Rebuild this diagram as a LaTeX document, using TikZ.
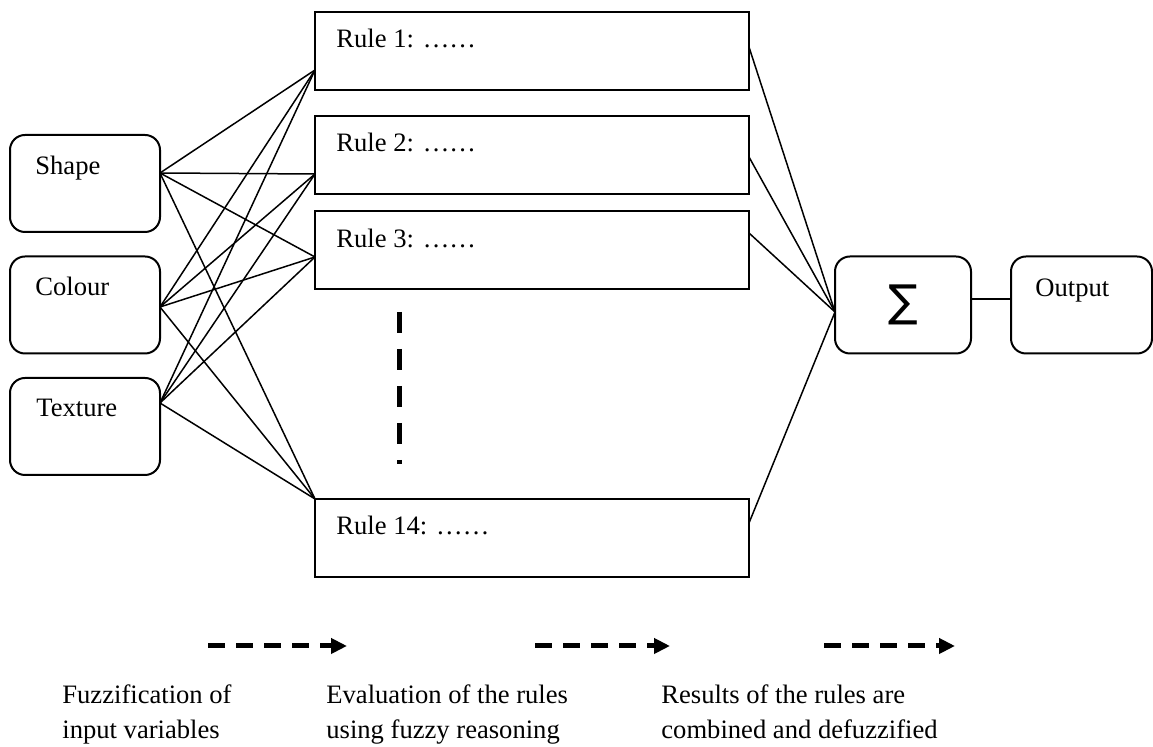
\documentclass[tikz,border=0pt]{standalone}
\usepackage{fontspec}
\setmainfont{Liberation Serif}
\newfontfamily\sigfont{DejaVu Sans}
\usepackage{tikz}
\usetikzlibrary{arrows.meta}

\begin{document}
\begin{tikzpicture}[x=0.5pt, y=-0.5pt,
        inbox/.style={draw, line width=1pt, rounded corners=7.5pt, minimum width=75pt, minimum height=48.5pt, inner sep=0pt},
        rulebox/.style={draw, line width=1pt, minimum width=217pt, minimum height=39pt, inner sep=0pt},
        lbl/.style={anchor=base west, inner sep=0pt, font=\fontsize{13.3}{17.5}\selectfont},
        txt/.style={anchor=base west, inner sep=0pt, align=left, font=\fontsize{13.3}{17.5}\selectfont},
        wire/.style={line width=0.75pt},
        dashline/.style={line width=2.5pt, dash pattern=on 10.5pt off 8pt},
        dasharrow/.style={line width=2.5pt, dash pattern=on 8.5pt off 5.5pt, -{Triangle[length=8pt,width=7.5pt]}}]

        \useasboundingbox (0,0) rectangle (1153,747);

        % inputs
        \node[inbox] (shape) at (85,183.5) {};
        \node[inbox] (colour) at (85,305) {};
        \node[inbox] (texture) at (85,426.5) {};
        \node[lbl] (shape-t) at (35,175) {Shape};
        \node[lbl] (colour-t) at (35,296) {Colour};
        \node[lbl] (texture-t) at (36,417) {Texture};

        % rules
        \node[rulebox] (r1) at (532,51) {};
        \node[rulebox] (r2) at (532,155) {};
        \node[rulebox] (r3) at (532,250.5) {};
        \node[rulebox] (r14) at (532,538.5) {};
        \node[lbl] (r1-t) at (336,48) {Rule 1: ……};
        \node[lbl] (r2-t) at (336,152) {Rule 2: ……};
        \node[lbl] (r3-t) at (336,248) {Rule 3: ……};
        \node[lbl] (r14-t) at (336,535) {Rule 14: ……};

        % sum and output
        \node[inbox, minimum width=68pt] (sum) at (903,305) {};
        \node[inner sep=0pt] (sig) at (903,305) {\sigfont\fontsize{22}{22}\selectfont ∑};
        \node[inbox, minimum width=70.5pt] (out) at (1081.5,305) {};
        \node[lbl] (out-t) at (1035,297) {Output};

        % ports
        \coordinate (shape-p) at (160,173);
        \coordinate (colour-p) at (160,307);
        \coordinate (texture-p) at (160,403);
        \coordinate (r1-in) at (315,70);
        \coordinate (r2-in) at (315,174);
        \coordinate (r3-in) at (315,257);
        \coordinate (r14-in) at (315,499);
        \coordinate (r1-out) at (749,47);
        \coordinate (r2-out) at (749,157);
        \coordinate (r3-out) at (749,233);
        \coordinate (r14-out) at (749,523);
        \coordinate (sum-p) at (835,312);

        \foreach \i in {shape,colour,texture}
        \foreach \j in {r1,r2,r3,r14}
                \draw[wire] (\i-p) -- (\j-in);

        \foreach \j in {r1,r2,r3,r14}
                \draw[wire] (\j-out) -- (sum-p);

        \draw[wire] ([yshift=3pt]sum.east) -- ([yshift=3pt]out.west);

        % more rules
        \coordinate (dots-a) at (399,312);
        \coordinate (dots-b) at (399,464);
        \draw[dashline] (dots-a) -- (dots-b);

        % stages
        \coordinate (a1s) at (208,646);
        \coordinate (a1e) at (347,646);
        \coordinate (a2s) at (535,646);
        \coordinate (a2e) at (670,646);
        \coordinate (a3s) at (824,646);
        \coordinate (a3e) at (955,646);
        \draw[dasharrow] (a1s) -- (a1e);
        \draw[dasharrow] (a2s) -- (a2e);
        \draw[dasharrow] (a3s) -- (a3e);

        \node[txt] (s1) at (62,739) {Fuzzification of\\input variables};
        \node[txt] (s2) at (326,739) {Evaluation of the rules\\using fuzzy reasoning};
        \node[txt] (s3) at (661,739) {Results of the rules are\\combined and defuzzified};

\end{tikzpicture}
\end{document}
